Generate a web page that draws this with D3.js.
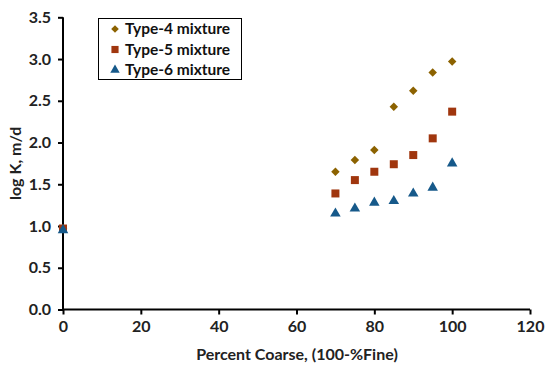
<!DOCTYPE html>
<html>
<head>
<meta charset="utf-8">
<script src="https://cdn.jsdelivr.net/npm/d3@7"></script>
<style>
body { margin: 0; background: #fff; }
text { font-family: Lato, "Open Sans", sans-serif; font-weight: bold; }
</style>
</head>
<body>
<div id="chart"></div>
<script>
var coarse = [0, 70, 75, 80, 85, 90, 95, 100];
var type4 = [0.97, 1.65, 1.79, 1.91, 2.43, 2.62, 2.84, 2.97];
var type5 = [0.97, 1.39, 1.55, 1.65, 1.74, 1.85, 2.05, 2.37];
var type6 = [0.95, 1.15, 1.21, 1.28, 1.30, 1.39, 1.46, 1.75];
var seriesNames = ["Type-4 mixture", "Type-5 mixture", "Type-6 mixture"];
var xTicks = [0, 20, 40, 60, 80, 100, 120];
var yTicks = [0, 0.5, 1, 1.5, 2, 2.5, 3, 3.5];

var width = 550, height = 368;
var plotLeft = 63, plotRight = 530, plotTop = 17.3, plotBottom = 309.5;

var svg = d3.select("#chart").append("svg")
	.attr("width", width)
	.attr("height", height);

var x = d3.scaleLinear().domain([0, 120]).range([plotLeft, plotRight]);
var y = d3.scaleLinear().domain([0, 3.5]).range([plotBottom, plotTop]);

// axes
var xAxis = svg.append("g")
	.attr("transform", "translate(0," + plotBottom + ")")
	.call(d3.axisBottom(x).tickValues(xTicks).tickSize(5).tickPadding(6).tickFormat(d3.format("d")));
var yAxis = svg.append("g")
	.attr("transform", "translate(" + plotLeft + ",0)")
	.call(d3.axisLeft(y).tickValues(yTicks).tickSize(5).tickPadding(7).tickFormat(d3.format(".1f")));

[xAxis, yAxis].forEach(function(a) {
	a.select(".domain").attr("stroke", "#000").attr("stroke-width", 2);
	a.selectAll(".tick line").attr("stroke", "#000").attr("stroke-width", 2);
	a.selectAll(".tick text").attr("fill", "#222").style("font-size", "16px");
});
xAxis.select(".domain").attr("d", "M" + plotLeft + ",0H" + plotRight);
yAxis.select(".domain").attr("d", "M0," + plotBottom + "V" + plotTop);

// axis titles
svg.append("text")
	.attr("x", 297)
	.attr("y", 360)
	.attr("text-anchor", "middle")
	.attr("fill", "#222")
	.style("font-size", "16px")
	.text("Percent Coarse, (100-%Fine)");

svg.append("text")
	.attr("transform", "translate(21," + ((plotTop + plotBottom) / 2) + ") rotate(-90)")
	.attr("text-anchor", "middle")
	.attr("fill", "#222")
	.style("font-size", "16px")
	.text("log K, m/d");

var series = [
	{ name: seriesNames[0], values: type4, symbol: d3.symbolDiamond2, size: 46, color: "#8C6200" },
	{ name: seriesNames[1], values: type5, symbol: d3.symbolSquare, size: 64, color: "#A0360E" },
	{ name: seriesNames[2], values: type6, symbol: d3.symbolTriangle, size: 48, color: "#16598A" }
];

series.forEach(function(s) {
	svg.append("g")
		.selectAll("path")
		.data(s.values)
		.enter()
		.append("path")
		.attr("d", d3.symbol().type(s.symbol).size(s.size))
		.attr("transform", function(d, i) {
			return "translate(" + x(coarse[i]) + "," + y(d) + ")";
		})
		.attr("fill", s.color);
});

// legend
var legend = svg.append("g");
legend.append("rect")
	.attr("x", 98.5).attr("y", 18.5)
	.attr("width", 143).attr("height", 61)
	.attr("fill", "#fff")
	.attr("stroke", "#000")
	.attr("stroke-width", 1);

series.forEach(function(s, i) {
	var ly = 29 + i * 20.5;
	legend.append("path")
		.attr("d", d3.symbol().type(s.symbol).size(s.size * 0.8))
		.attr("transform", "translate(115," + ly + ")")
		.attr("fill", s.color);
	legend.append("text")
		.attr("x", 125)
		.attr("y", ly)
		.attr("dy", "0.35em")
		.attr("fill", "#111")
		.style("font-size", "15.5px")
		.text(s.name);
});
</script>
</body>
</html>
